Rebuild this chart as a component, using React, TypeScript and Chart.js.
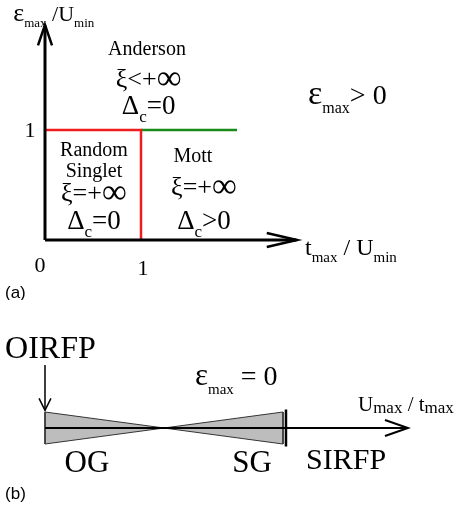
import React, { useEffect, useRef } from "react";
import { Chart, registerables } from "chart.js";

Chart.register(...registerables);

// ---------- Panel (a) data: phase boundaries (t_max/U_min, eps_max/U_min) ----------
const redBoundary = [
  { x: 0, y: 1 },
  { x: 1, y: 1 },
  { x: 1, y: 0 },
];
const greenBoundary = [
  { x: 1, y: 1 },
  { x: 2, y: 1 },
];
const xAxisA = [
  { x: 0, y: 0 },
  { x: 2.62, y: 0 },
];
const yAxisA = [
  { x: 0, y: 0 },
  { x: 0, y: 1.95 },
];
const xArrowA = [
  { x: 2.31, y: 0.064 },
  { x: 2.625, y: 0 },
  { x: 2.31, y: -0.064 },
];
const yArrowA = [
  { x: -0.073, y: 1.77 },
  { x: 0, y: 1.955 },
  { x: 0.073, y: 1.77 },
];
const xTickLabelsA = ["0", "1"];
const yTickLabelsA = ["1"];

// ---------- Panel (b) data: U_max/t_max line ----------
const axisB = [
  { x: 0, y: 0 },
  { x: 3.04, y: 0 },
];
const arrowB = [
  { x: 2.857, y: 0.5 },
  { x: 3.05, y: 0 },
  { x: 2.857, y: -0.5 },
];
const ogUpper = [
  { x: 0, y: 1 },
  { x: 1, y: 0 },
];
const ogLower = [
  { x: 0, y: -1 },
  { x: 1, y: 0 },
];
const ogEdge = [
  { x: 0, y: 1 },
  { x: 0, y: -1 },
];
const sgUpper = [
  { x: 1, y: 0 },
  { x: 2, y: 1 },
];
const sgLower = [
  { x: 1, y: 0 },
  { x: 2, y: -1 },
];
const sgEdge = [
  { x: 2, y: 1 },
  { x: 2, y: -1 },
];
const sirfpTick = [
  { x: 2.025, y: 1.15 },
  { x: 2.025, y: -1.15 },
];
const oirfpArrow = [
  { x: 0, y: 3.94 },
  { x: 0, y: 1.1 },
];
const oirfpHead = [
  { x: -0.05, y: 1.85 },
  { x: 0, y: 1.1 },
  { x: 0.05, y: 1.85 },
];

// [text, subscript?, size multiplier, baseline shift in em]
type Part = [string, boolean, number?, number?];
type Label = {
  parts: Part[];
  x: number;
  y: number;
  size: number;
  align: "left" | "center";
  sans?: boolean;
  subScale?: number;
  subDrop?: number;
};

const SERIF = '"Liberation Serif", "DejaVu Serif", serif';
const SANS = '"Liberation Sans", Arial, sans-serif';
const INF: Part = ["∞", false, 1.35, 0.1];
const EPS = 1.2;

const labelsA: Label[] = [
  { parts: [["ε", false, EPS], ["max", true], [" /U", false], ["min", true]], x: -0.33, y: 2.06, size: 22, align: "left", subScale: 0.6 },
  { parts: [["Anderson", false]], x: 1.0625, y: 1.745, size: 20, align: "center" },
  { parts: [["ξ<+", false], INF], x: 1.08, y: 1.473, size: 26, align: "center" },
  { parts: [["Δ", false], ["c", true], ["=0", false]], x: 1.08, y: 1.227, size: 27, align: "center" },
  { parts: [["Random", false]], x: 0.51, y: 0.827, size: 20, align: "center" },
  { parts: [["Singlet", false]], x: 0.51, y: 0.636, size: 20, align: "center" },
  { parts: [["ξ=+", false], INF], x: 0.51, y: 0.436, size: 26, align: "center" },
  { parts: [["Δ", false], ["c", true], ["=0", false]], x: 0.51, y: 0.18, size: 27, align: "center" },
  { parts: [["Mott", false]], x: 1.54, y: 0.773, size: 20, align: "center" },
  { parts: [["ξ=+", false], INF], x: 1.656, y: 0.49, size: 26, align: "center" },
  { parts: [["Δ", false], ["c", true], [">0", false]], x: 1.656, y: 0.18, size: 27, align: "center" },
  { parts: [[xTickLabelsA[0], false]], x: -0.052, y: -0.227, size: 22, align: "center" },
  { parts: [[xTickLabelsA[1], false]], x: 1.02, y: -0.255, size: 22, align: "center" },
  { parts: [[yTickLabelsA[0], false]], x: -0.156, y: 1.0, size: 22, align: "center" },
  { parts: [["t", false], ["max", true], [" / U", false], ["min", true]], x: 2.708, y: -0.064, size: 24, align: "left" },
  { parts: [["ε", false, EPS], ["max", true], ["> 0", false]], x: 2.74, y: 1.318, size: 28, align: "left", subScale: 0.58 },
  { parts: [["(a)", false]], x: -0.4167, y: -0.473, size: 17, align: "left", sans: true },
];

const labelsB: Label[] = [
  { parts: [["OIRFP", false]], x: -0.336, y: 5.06, size: 32, align: "left" },
  { parts: [["ε", false, 1.1], ["max", true], [" = 0", false]], x: 1.26, y: 3.25, size: 28, align: "left", subScale: 0.55 },
  { parts: [["U", false], ["max", true], [" / t", false], ["max", true]], x: 2.63, y: 1.5, size: 21, align: "left", subScale: 0.8, subDrop: 0.12 },
  { parts: [["OG", false]], x: 0.353, y: -2.125, size: 31, align: "center" },
  { parts: [["SG", false]], x: 1.74, y: -2.125, size: 31, align: "center" },
  { parts: [["SIRFP", false]], x: 2.53, y: -1.94, size: 30, align: "center" },
  { parts: [["(b)", false]], x: -0.336, y: -4.06, size: 17, align: "left", sans: true },
];

function drawRich(ctx: CanvasRenderingContext2D, l: Label, px: number, py: number) {
  const family = l.sans ? SANS : SERIF;
  const subScale = l.subScale ?? 0.62;
  const subDrop = l.subDrop ?? 0.3;
  const fontFor = (p: Part) => {
    const s = (p[1] ? l.size * subScale : l.size) * (p[2] ?? 1);
    return `${Math.round(s)}px ${family}`;
  };
  let total = 0;
  const widths = l.parts.map((p) => {
    ctx.font = fontFor(p);
    const w = ctx.measureText(p[0]).width;
    total += w;
    return w;
  });
  let x = l.align === "center" ? px - total / 2 : px;
  const baseline = py + l.size * 0.33;
  ctx.textAlign = "left";
  ctx.textBaseline = "alphabetic";
  ctx.fillStyle = "#000";
  l.parts.forEach((p, i) => {
    ctx.font = fontFor(p);
    const shift = (p[1] ? l.size * subDrop : 0) + (p[3] ?? 0) * l.size;
    ctx.fillText(p[0], x, baseline + shift);
    x += widths[i];
  });
}

function textPlugin(labels: Label[]) {
  return {
    id: "richText",
    afterDraw(chart: any) {
      const ctx = chart.ctx as CanvasRenderingContext2D;
      const xs = chart.scales.x;
      const ys = chart.scales.y;
      ctx.save();
      labels.forEach((l) => drawRich(ctx, l, xs.getPixelForValue(l.x), ys.getPixelForValue(l.y)));
      ctx.restore();
    },
  };
}

const seg = (data: any[], color: string, width: number, extra: any = {}) => ({
  data,
  borderColor: color,
  borderWidth: width,
  pointRadius: 0,
  fill: false,
  tension: 0,
  ...extra,
});

function makeOptions(xmin: number, xmax: number, ymin: number, ymax: number) {
  return {
    responsive: false,
    animation: false as const,
    devicePixelRatio: 1,
    layout: { padding: 0 },
    plugins: { legend: { display: false }, tooltip: { enabled: false } },
    events: [],
    scales: {
      x: { type: "linear" as const, min: xmin, max: xmax, display: false },
      y: { type: "linear" as const, min: ymin, max: ymax, display: false },
    },
  };
}

export default function App() {
  const refA = useRef<HTMLCanvasElement>(null);
  const refB = useRef<HTMLCanvasElement>(null);

  useEffect(() => {
    const chartA = new Chart(refA.current!, {
      type: "line",
      data: {
        datasets: [
          seg(xAxisA, "#000", 3),
          seg(yAxisA, "#000", 3),
          seg(xArrowA, "#000", 2.5),
          seg(yArrowA, "#000", 2.5),
          seg(redBoundary, "#ee1c1c", 2.5),
          seg(greenBoundary, "#1a8a1a", 2.5),
        ],
      },
      options: makeOptions(-45 / 96, 411 / 96, -60 / 110, 240 / 110) as any,
      plugins: [textPlugin(labelsA)],
    });

    const gray = "#bdbdbd";
    const chartB = new Chart(refB.current!, {
      type: "line",
      data: {
        datasets: [
          seg(axisB, "#000", 2),
          seg(arrowB, "#000", 2),
          seg(sirfpTick, "#000", 2.5),
          seg(oirfpArrow, "#000", 1.5),
          seg(oirfpHead, "#000", 1.5),
          seg(ogEdge, "#333", 1),
          seg(sgEdge, "#333", 1),
          seg(ogUpper, "#333", 1, { fill: "origin", backgroundColor: gray }),
          seg(ogLower, "#333", 1, { fill: "origin", backgroundColor: gray }),
          seg(sgUpper, "#333", 1, { fill: "origin", backgroundColor: gray }),
          seg(sgLower, "#333", 1, { fill: "origin", backgroundColor: gray }),
        ],
      },
      options: makeOptions(-45 / 119, 411 / 119, -5, 8) as any,
      plugins: [textPlugin(labelsB)],
    });

    return () => {
      chartA.destroy();
      chartB.destroy();
    };
  }, []);

  return (
    <div style={{ position: "absolute", left: 0, top: 0, width: 456, height: 508, background: "#fff" }}>
      <canvas ref={refA} width={456} height={300} style={{ display: "block", width: 456, height: 300 }} />
      <canvas ref={refB} width={456} height={208} style={{ display: "block", width: 456, height: 208 }} />
    </div>
  );
}
